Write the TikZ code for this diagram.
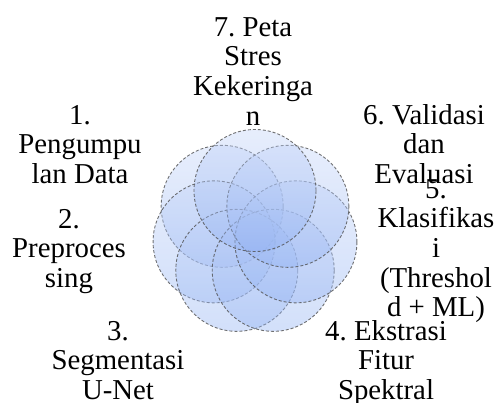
\documentclass[tikz,border=0pt]{standalone}
\usepackage{fontspec}
\setmainfont{Liberation Serif}
\usetikzlibrary{calc}
\definecolor{ctop}{HTML}{C2D3F8}
\definecolor{cbot}{HTML}{8FB0F2}
\definecolor{edge}{HTML}{505050}
\tikzset{
  petal/.style={circle, minimum size=122pt, inner sep=0pt, top color=ctop, bottom color=cbot,
    fill opacity=0.4, draw=edge, draw opacity=0.8, dash pattern=on 3pt off 2pt, line width=0.9pt},
  lbl/.style={font=\fontsize{28.8}{29.7}\selectfont\frenchspacing, align=center, inner sep=0pt, anchor=north, text=black}
}
\begin{document}
\begin{tikzpicture}[x=1pt,y=-1pt]
\path[use as bounding box] (0,0) rectangle (497,403);
\coordinate (ctr) at (255,232.5);
\foreach \k/\a in {1/141.43,2/192.86,3/244.29,4/295.71,5/347.14,6/38.57,7/90}{
  \node[petal] (p\k) at ($(ctr)+({42*cos(\a)},{-42*sin(\a)})$) {};
}
\node[lbl] (l7) at (253,15.2) {\strut 7. Peta\\Stres\\Kekeringa\\n};
\node[lbl] (l1) at (80,103.2) {\strut 1.\\Pengumpu\\lan Data};
\node[lbl] (l6) at (424,103.2) {\strut 6. Validasi\\dan\\Evaluasi};
\node[lbl] (l2) at (69,207.2) {\strut 2.\\Preproces\\sing};
\node[lbl] (l5) at (436,177.2) {\strut 5.\\Klasifikas\\i\\(Threshol\\d + ML)};
\node[lbl] (l3) at (118,319.2) {\strut 3.\\Segmentasi\\U-Net};
\node[lbl] (l4) at (386,319.2) {\strut 4. Ekstrasi\\Fitur\\Spektral};
\end{tikzpicture}
\end{document}
